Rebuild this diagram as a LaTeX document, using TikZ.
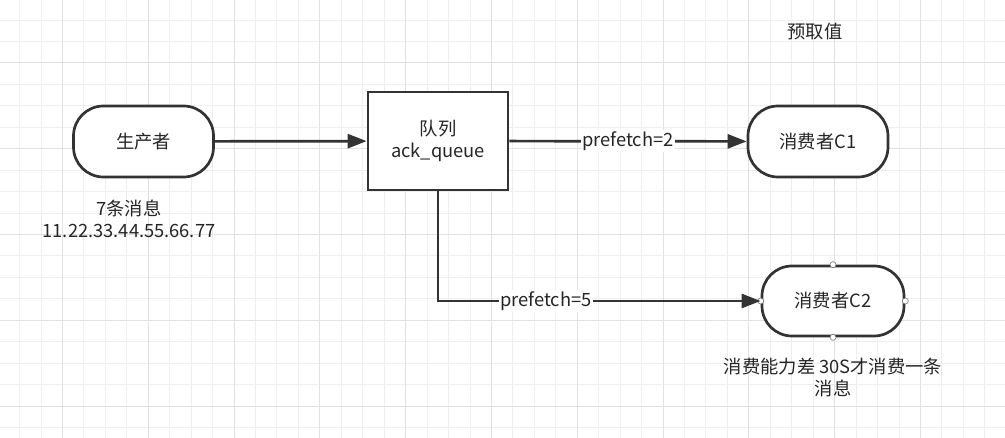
\documentclass[tikz,border=0pt]{standalone}
\usepackage{fontspec}
\setmainfont{Noto Sans CJK SC}
\usetikzlibrary{arrows.meta}
\definecolor{gridmin}{RGB}{238,238,238}
\definecolor{gridmaj}{RGB}{226,226,226}
\definecolor{ink}{RGB}{51,51,51}

\begin{document}
\begin{tikzpicture}[
    x=1pt, y=-1pt,
    >={Triangle[length=19pt,width=14pt]},
    gridln/.style={draw=gridmin, line width=0.9pt},
    gridbold/.style={draw=gridmaj, line width=1pt},
    txt/.style={font=\fontsize{18.3}{22}\selectfont, text=black!85},
    term/.style={txt, draw=ink, fill=white, line width=2.7pt, rounded corners=30pt,
                 minimum width=140pt, minimum height=71pt, inner sep=0pt},
    qbox/.style={txt, draw=ink, fill=white, line width=2.7pt, align=center,
                 minimum width=140pt, minimum height=98pt, inner sep=0pt},
    flow/.style={->, draw=ink, line width=2.7pt},
    lbl/.style={txt, fill=white, inner sep=1.5pt},
    handle/.style={circle, draw=black!55, fill=white, line width=0.6pt,
                   minimum size=6pt, inner sep=0pt},
  ]
  \useasboundingbox (0,0) rectangle (1005,438);
  \fill[white] (0,0) rectangle (1005,438);

  %% ---------------- grid ----------------
  \foreach \k in {0,...,46} {
    \pgfmathsetmacro\gx{19.5+21.45*\k}
    \draw[gridln] (\gx,0) -- (\gx,438);
  }
  \foreach \k in {0,...,19} {
    \pgfmathsetmacro\gy{20+21.45*\k}
    \draw[gridln] (0,\gy) -- (1005,\gy);
  }
  \foreach \k in {2,6,...,46} {
    \pgfmathsetmacro\gx{19.5+21.45*\k}
    \draw[gridbold] (\gx,0) -- (\gx,438);
  }
  \foreach \k in {2,6,...,18} {
    \pgfmathsetmacro\gy{20+21.45*\k}
    \draw[gridbold] (0,\gy) -- (1005,\gy);
  }

  %% ---------------- shapes ----------------
  \node[term] (prod) at (143.5,141.5) {生产者};
  \node[qbox] (queue) at (438,141) {队列\\ack\_queue};
  \node[term] (cone) at (818,141.5) {消费者C1};
  \node[term, minimum width=142pt, minimum height=70pt] (ctwo) at (833,301) {消费者C2};
  \foreach \a in {north,south,east,west} { \node[handle] at (ctwo.\a) {}; }

  %% ---------------- texts ----------------
  \node[txt] (prefetch) at (815,32) {预取值};
  \node[txt, align=center] (msgs) at (129,219) {7条消息\\11.22.33.44.55.66.77};
  \node[txt, align=center] (slow) at (833,378) {消费能力差 30S才消费一条\\消息};

  %% ---------------- connectors ----------------
  \draw[flow] (prod) -- (queue);
  \draw[flow] (queue) -- node[lbl] {prefetch=2} (cone);
  \draw[flow] (queue.south) |- node[lbl, pos=0.667] {prefetch=5} (ctwo);

\end{tikzpicture}
\end{document}
